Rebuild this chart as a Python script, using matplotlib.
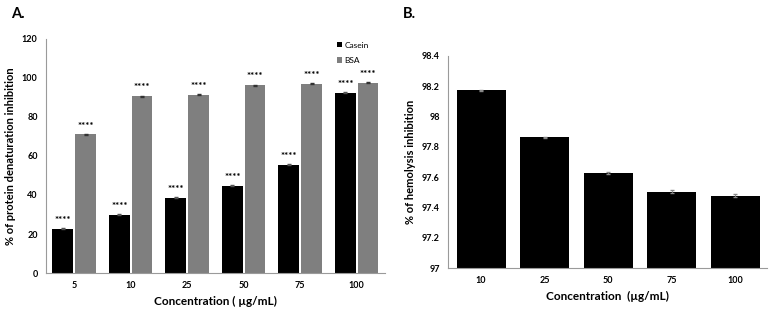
import matplotlib
matplotlib.use("Agg")
import matplotlib.pyplot as plt
import numpy as np

# ── Data ───────────────────────────────────────────────────────────────────
conc_a = ["5", "10", "25", "50", "75", "100"]
casein = [22.7, 29.8, 38.7, 44.7, 55.6, 92.5]
casein_err = [0.3, 0.3, 0.2, 0.2, 0.3, 0.4]
bsa = [71.0, 90.6, 91.3, 96.3, 97.1, 97.6]
bsa_err = [0.3, 0.3, 0.3, 0.2, 0.3, 0.2]
stars = ["****"] * 6

conc_b = ["10", "25", "50", "75", "100"]
hemolysis = [98.174, 97.864, 97.626, 97.505, 97.479]
hemolysis_err = [0.004, 0.004, 0.005, 0.008, 0.007]

plt.rcParams["font.family"] = ["Lato", "DejaVu Sans"]

fig = plt.figure(figsize=(7.73, 3.11), dpi=100)
spine_col = "#9a9a9a"


def style(ax):
    for s in ("top", "right"):
        ax.spines[s].set_visible(False)
    for s in ("left", "bottom"):
        ax.spines[s].set_color(spine_col)
        ax.spines[s].set_linewidth(0.8)
    ax.tick_params(length=0, labelsize=6.5, pad=6)
    for lbl in ax.get_xticklabels() + ax.get_yticklabels():
        lbl.set_fontweight("bold")


# ── Panel A ────────────────────────────────────────────────────────────────
ax1 = fig.add_axes([0.0595, 0.122, 0.4385, 0.753])
x = np.arange(len(conc_a))
w = 0.37
ax1.bar(x - 0.2, casein, w, yerr=casein_err, color="black", label="Casein",
        error_kw=dict(ecolor="#555", elinewidth=0.6, capsize=1.5))
ax1.bar(x + 0.2, bsa, w, yerr=bsa_err, color="#7f7f7f", label="BSA",
        error_kw=dict(ecolor="#333", elinewidth=0.6, capsize=1.5))
for xi, c, b, s in zip(x, casein, bsa, stars):
    ax1.text(xi - 0.2, c + 2.0, s, ha="center", va="bottom", fontsize=7, fontweight="bold")
    ax1.text(xi + 0.2, b + 2.0, s, ha="center", va="bottom", fontsize=7, fontweight="bold")
ax1.set_xlim(-0.5, len(conc_a) - 0.5)
ax1.set_ylim(0, 120)
ax1.set_yticks(range(0, 121, 20))
ax1.set_xticks(x)
ax1.set_xticklabels(conc_a)
style(ax1)
ax1.set_xlabel("Concentration ( µg/mL)", fontsize=8.5, fontweight="bold")
ax1.set_ylabel("% of protein denaturation inhibition", fontsize=8, fontweight="bold")
ax1.legend(loc="upper right", bbox_to_anchor=(0.975, 1.02), frameon=False, fontsize=6,
           handlelength=0.6, handleheight=0.6, handletextpad=0.3, labelspacing=1.0)
fig.text(0.014, 0.955, "A.", fontsize=10.5, fontweight="bold", va="center")

# ── Panel B ────────────────────────────────────────────────────────────────
ax2 = fig.add_axes([0.5796, 0.138, 0.4124, 0.682])
xb = np.arange(len(conc_b))
ax2.bar(xb, hemolysis, 0.77, yerr=hemolysis_err, color="black",
        error_kw=dict(ecolor="#888", elinewidth=0.6, capsize=1.5))
ax2.set_xlim(-0.52, len(conc_b) - 0.5)
ax2.set_ylim(97, 98.4)
ax2.set_yticks([97, 97.2, 97.4, 97.6, 97.8, 98, 98.2, 98.4])
ax2.set_yticklabels(["97", "97.2", "97.4", "97.6", "97.8", "98", "98.2", "98.4"])
ax2.set_xticks(xb)
ax2.set_xticklabels(conc_b)
style(ax2)
ax2.set_xlabel("Concentration  (µg/mL)", fontsize=8.5, fontweight="bold")
ax2.set_ylabel("% of hemolysis inhibition", fontsize=8, fontweight="bold")
fig.text(0.521, 0.955, "B.", fontsize=10.5, fontweight="bold", va="center")

fig.savefig("out.png", dpi=100)
